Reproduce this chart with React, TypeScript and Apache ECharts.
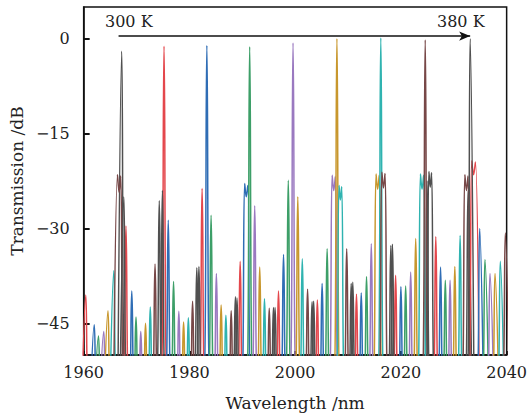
import React, { useEffect, useRef } from "react";
import * as echarts from "echarts";

// Temperatures (one series each) and their colours
const temperatures = ["300 K", "310 K", "320 K", "330 K", "340 K", "350 K", "360 K", "370 K", "380 K"];
const colors = ["#505050", "#e4474c", "#2f6db5", "#3d9f68", "#9a79c0", "#c8972d", "#2fb3b0", "#774747", "#505050"];

// Axis ticks
const xTicks = [1960, 1980, 2000, 2020, 2040];
const yTicks = [-45, -30, -15, 0];

// Lobe peaks [wavelength nm, transmission dB].
// Points closer than 0.5 nm belong to one (double-humped) lobe.
const peaks300: number[][] = [
  [1967.2, -2.0], [1974.3, -25.6], [1981.4, -36.2], [1988.7, -40.8], [1995.9, -42.5],
  [2003.2, -41.6], [2010.6, -38.7], [2018.1, -32.7], [2024.95, -22.5], [2032.7, -24.0],
];
const peaks310: number[][] = [
  [1960.4, -40.5], [1968.0, -29.6], [1975.2, -1.2], [1982.4, -23.7], [1989.6, -35.2],
  [1996.85, -39.9], [2004.2, -41.3], [2011.6, -40.4], [2019.0, -37.4], [2026.6, -31.3],
  [2033.4, -19.3], [2033.75, -21.5], [2034.1, -19.5],
];
const peaks320: number[][] = [
  [1962.0, -45.2], [1969.1, -39.9], [1976.0, -28.7], [1983.3, -1.1],
  [1990.45, -22.9], [1990.75, -25.0], [1991.05, -23.2],
  [1997.8, -34.1], [2005.1, -38.7], [2012.5, -40.2], [2020.0, -39.2], [2027.5, -36.1], [2034.9, -30.0],
];
const peaks330: number[][] = [
  [1962.8, -47.0], [1969.9, -44.0], [1977.0, -38.4], [1984.1, -27.9], [1991.4, -1.3],
  [1998.7, -22.4], [2006.05, -33.2], [2013.5, -37.6], [2020.9, -39.1], [2028.4, -38.2], [2035.9, -34.9],
];
const peaks340: number[][] = [
  [1963.8, -46.3], [1970.8, -46.3], [1978.0, -43.1], [1985.1, -37.1], [1992.35, -26.4], [1999.6, -0.7],
  [2007.0, -21.6], [2007.3, -24.0], [2007.6, -21.8],
  [2014.4, -32.4], [2021.85, -36.9], [2029.3, -38.2], [2036.85, -37.1],
];
const peaks350: number[][] = [
  [1964.6, -43.0], [1971.7, -45.0], [1978.9, -44.8], [1986.0, -42.1], [1993.3, -36.1], [2000.5, -25.0],
  [2007.9, 0.0],
  [2015.3, -21.4], [2015.6, -23.8], [2015.9, -21.6],
  [2022.8, -31.6], [2030.2, -36.0], [2037.8, -37.1],
];
const peaks360: number[][] = [
  [1965.7, -36.7], [1972.6, -42.4], [1979.8, -44.1], [1986.9, -43.7], [1994.2, -41.1], [2001.35, -34.8],
  [2008.3, -23.2], [2008.55, -25.5], [2008.8, -23.4],
  [2016.2, 0.1],
  [2023.7, -21.4], [2024.0, -23.8], [2024.3, -21.6],
  [2031.2, -31.1], [2038.8, -35.2],
];
const peaks370: number[][] = [
  [1966.4, -21.5], [1966.7, -24.3], [1967.0, -21.7],
  [1973.5, -35.6], [1980.6, -41.5], [1987.9, -43.0], [1995.1, -42.6], [2002.35, -39.6], [2009.75, -33.2],
  [2016.4, -21.1], [2016.7, -23.6], [2017.0, -21.3],
  [2024.6, -0.2],
  [2032.1, -21.5], [2032.4, -24.0], [2032.7, -21.7],
  [2039.75, -30.7],
];
const peaks380: number[][] = [
  [1967.6, -25.0], [1974.9, -24.0], [1981.8, -36.0], [1989.0, -41.0], [1996.2, -42.5],
  [2003.5, -41.5], [2010.9, -38.5], [2018.4, -32.5],
  [2025.3, -21.0], [2025.55, -23.5], [2025.8, -21.2],
  [2033.1, 0.0],
];
const allPeaks = [peaks300, peaks310, peaks320, peaks330, peaks340, peaks350, peaks360, peaks370, peaks380];

// Lobe drawing: each lobe falls to an off-scale floor between peaks
const FLOOR = -58;
const HALF_BASE = 0.75;

function buildLine(peaks: number[][]): number[][] {
  const out: number[][] = [];
  let group: number[][] = [];
  const flush = () => {
    if (!group.length) return;
    out.push([group[0][0] - HALF_BASE, FLOOR]);
    group.forEach((p) => out.push(p));
    out.push([group[group.length - 1][0] + HALF_BASE, FLOOR]);
    group = [];
  };
  peaks.forEach((p) => {
    if (group.length && p[0] - group[group.length - 1][0] > 0.5) flush();
    group.push(p);
  });
  flush();
  return out;
}

const minus = (v: number) => (v < 0 ? "\u2212" + Math.abs(v) : String(v));
const FONT = "DejaVu Serif";

export default function App() {
  const ref = useRef<HTMLDivElement>(null);
  useEffect(() => {
    const chart = echarts.init(ref.current as HTMLDivElement, null, { renderer: "svg" });
    const firstMain = peaks300[0][0];
    const lastMain = peaks380[peaks380.length - 1][0];
    chart.setOption({
      animation: false,
      textStyle: { fontFamily: FONT },
      grid: { left: 78, right: 19, top: 7, bottom: 62, show: true, borderColor: "#111", borderWidth: 1.5 },
      xAxis: {
        type: "value",
        min: xTicks[0],
        max: xTicks[xTicks.length - 1],
        interval: 20,
        name: "Wavelength /nm",
        nameLocation: "middle",
        nameGap: 39,
        nameTextStyle: { fontFamily: FONT, fontSize: 17, color: "#222" },
        axisLine: { onZero: false, lineStyle: { color: "#111", width: 1.5 } },
        axisTick: { inside: true, length: 4, lineStyle: { color: "#111", width: 2 } },
        axisLabel: { fontFamily: FONT, fontSize: 16, color: "#222", margin: 9, formatter: (v: number) => String(v) },
        splitLine: { show: false },
      },
      yAxis: {
        type: "value",
        min: -50,
        max: 5,
        name: "Transmission /dB",
        nameLocation: "middle",
        nameGap: 50,
        nameTextStyle: { fontFamily: FONT, fontSize: 17, color: "#222" },
        axisLine: { show: true, onZero: false, lineStyle: { color: "#111", width: 1.5 } },
        axisTick: { show: true, inside: true, length: 6, customValues: yTicks, lineStyle: { color: "#111", width: 2 } },
        axisLabel: { fontFamily: FONT, fontSize: 16, color: "#222", margin: 14, customValues: yTicks, formatter: minus },
        splitLine: { show: false },
      },
      graphic: [
        { type: "text", left: 105, top: 13, style: { text: "300 K", font: `16px "${FONT}"`, fill: "#222" } },
        { type: "text", left: 437, top: 13, style: { text: "380 K", font: `16px "${FONT}"`, fill: "#222" } },
      ],
      series: allPeaks.map((pk, i) => ({
        type: "line",
        name: temperatures[i],
        data: buildLine(pk),
        showSymbol: false,
        smooth: 0.35,
        clip: true,
        lineStyle: { color: colors[i], width: 1.5 },
        itemStyle: { color: colors[i] },
        z: 2 + i,
        ...(i === 0
          ? {
              markLine: {
                silent: true,
                symbol: ["none", "arrow"],
                symbolSize: [7, 11],
                label: { show: false },
                lineStyle: { color: "#111", width: 1.5, type: "solid" },
                data: [[{ coord: [firstMain - 0.6, 0.4] }, { coord: [lastMain, 0.4] }]],
              },
            }
          : {}),
      })),
    });
    return () => chart.dispose();
  }, []);
  return <div ref={ref} style={{ position: "absolute", left: 0, top: 0, width: 530, height: 417 }} />;
}
